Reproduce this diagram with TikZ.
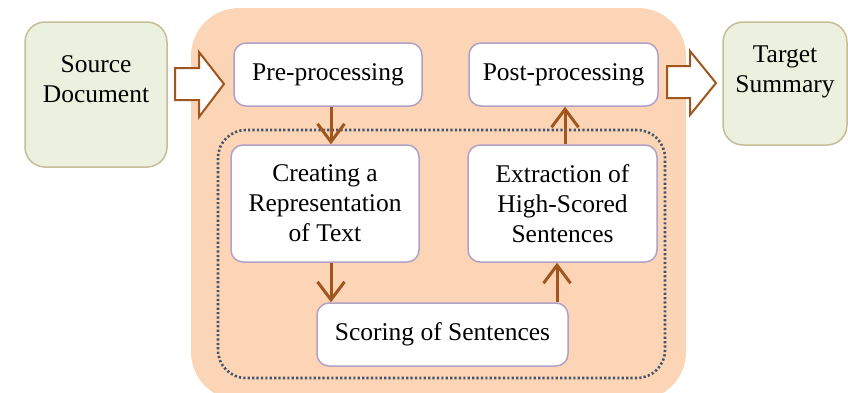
\documentclass[tikz,border=0pt]{standalone}
\usepackage{fontspec}
\setmainfont{Liberation Serif}
\usetikzlibrary{arrows.meta,calc}
\definecolor{peach}{HTML}{FBD5B5}
\definecolor{greenfill}{HTML}{EBF1DE}
\definecolor{greenline}{HTML}{C4BD97}
\definecolor{lavline}{HTML}{B1A0C7}
\definecolor{brownline}{HTML}{A0561E}
\definecolor{slate}{HTML}{44546A}
\tikzset{
  whitebox/.style={draw=lavline, line width=1.5pt, fill=white, rounded corners=12pt,
    align=center, inner sep=0pt, font=\fontsize{25.5}{30}\selectfont},
  greenbox/.style={draw=greenline, line width=1.5pt, fill=greenfill, rounded corners=20pt,
    inner sep=0pt, font=\fontsize{25.5}{30}\selectfont},
  flowarrow/.style={draw=brownline, line width=3pt, -{Straight Barb[length=18pt,width=27pt,line width=3pt]}},
  blockarrow/.style={draw=brownline, line width=2pt, fill=white, line join=miter},
}
\begin{document}
\begin{tikzpicture}[x=1pt,y=-1pt]
\useasboundingbox (0,0) rectangle (848,392);
% background panel
\fill[peach, rounded corners=48pt] (191,8) rectangle (686,400);
% dotted group
\draw[slate, line width=2.6pt, dash pattern=on 2.2pt off 2.2pt, rounded corners=28pt]
  (218,130) rectangle (665,378);
% nodes
\node[greenbox, minimum width=142pt, minimum height=145pt] (src) at (96,94.5)
  {\parbox[c][145pt][t]{140pt}{\centering\rule{0pt}{50pt}Source\\Document}};
\node[greenbox, minimum width=124pt, minimum height=123pt] (tgt) at (785,83.5)
  {\parbox[c][123pt][t]{122pt}{\centering\rule{0pt}{40pt}Target\\Summary}};
\node[whitebox, minimum width=188pt, minimum height=63pt] (pre) at (328,74.5) {Pre-processing};
\node[whitebox, minimum width=189pt, minimum height=63pt] (post) at (563.5,74.5) {Post-processing};
\node[whitebox, minimum width=188pt, minimum height=117pt] (create) at (325,203.5) {Creating a\\Representation\\of Text};
\node[whitebox, minimum width=189pt, minimum height=117pt] (extr) at (562.5,203.5) {Extraction of\\High-Scored\\Sentences};
\node[whitebox, minimum width=251pt, minimum height=63pt] (score) at (442.5,334.5) {Scoring of Sentences};
% block arrows
\coordinate (a1) at (175,84);
\coordinate (a2) at (667,82);
\draw[blockarrow] (a1) ++(0,-16) -- ++(24,0) -- ++(0,-16) -- (224,84) -- (199,117) -- ++(0,-17) -- ++(-24,0) -- cycle;
\draw[blockarrow] (a2) ++(0,-16) -- ++(23,0) -- ++(0,-15) -- (716,83) -- (690,115) -- ++(0,-17) -- ++(-23,0) -- cycle;
% flow arrows
\draw[flowarrow] ([xshift=3pt]pre.south) -- ([xshift=6pt]create.north);
\draw[flowarrow] ([xshift=6pt]create.south) -- ([xshift=6pt]create.south |- score.north);
\draw[flowarrow] ([xshift=114.5pt]score.north) -- ([xshift=114.5pt]score.north |- extr.south);
\draw[flowarrow] ([xshift=2.5pt]extr.north) -- ([xshift=2.5pt]extr.north |- post.south);
\end{tikzpicture}
\end{document}
